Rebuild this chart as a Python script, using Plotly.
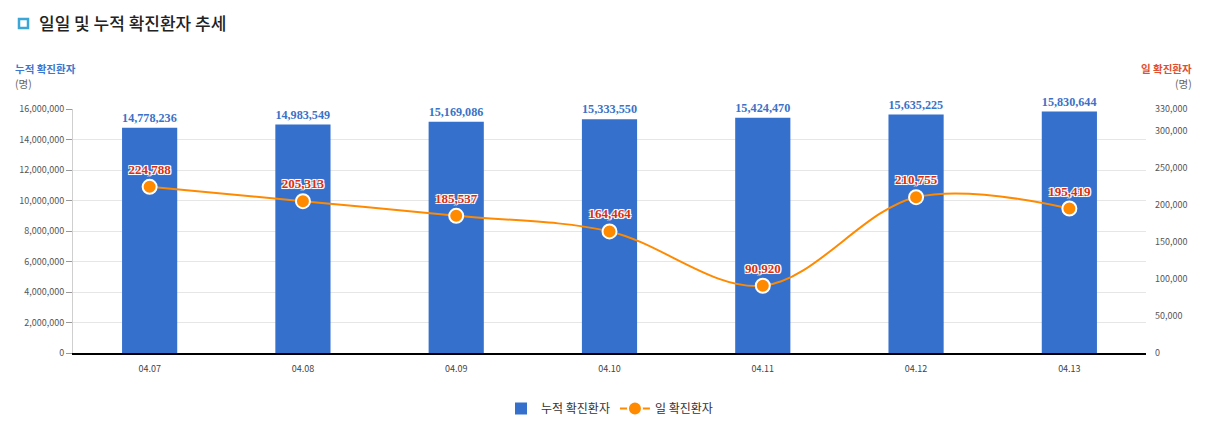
import plotly.graph_objects as go

dates = ["04.07", "04.08", "04.09", "04.10", "04.11", "04.12", "04.13"]
cumulative = [14778236, 14983549, 15169086, 15333550, 15424470, 15635225, 15830644]
daily = [224788, 205313, 185537, 164464, 90920, 210755, 195419]

left_ticks = [0, 2000000, 4000000, 6000000, 8000000, 10000000, 12000000, 14000000, 16000000]
right_ticks = [0, 50000, 100000, 150000, 200000, 250000, 300000, 330000]

title_text = "일일 및 누적 확진환자 추세"
bar_name = "누적 확진환자"
line_name = "일 확진환자"
unit = "(명)"

KR = "Noto Sans CJK KR"
SERIF = "Liberation Serif"

# page offset (body margin) compensation
OFF = 8
L, R, T, B = 73 - OFF, 1210 - 1146 + OFF, 109 - OFF, 432 - 353 + OFF
PW, PH = 1210 - L - R, 432 - T - B


def px(xp):
    return (xp - OFF - L) / PW


def py(yp):
    return 1 - (yp - OFF - T) / PH


fig = go.Figure()
fig.add_trace(go.Bar(
    x=dates, y=cumulative, name=bar_name,
    marker=dict(color="#3570cc", line=dict(width=0)),
    text=[f"{v:,}" for v in cumulative], textposition="outside",
    textfont=dict(family=SERIF, size=13, color="#3a72c8", weight="bold"),
    cliponaxis=False, yaxis="y",
))
fig.add_trace(go.Scatter(
    x=dates, y=daily, name=line_name, yaxis="y2",
    mode="lines+markers+text",
    line=dict(color="#ff8a00", width=2, shape="spline", smoothing=1.0),
    marker=dict(color="#ff8a00", size=14, line=dict(color="white", width=2)),
    text=[f"{v:,}" for v in daily], textposition="top center",
    textfont=dict(family=SERIF, size=13, color="#d8300f", weight="bold",
                  shadow="1px 1px 0 #fff, -1px -1px 0 #fff, 1px -1px 0 #fff, -1px 1px 0 #fff, 0 0 2px #fff"),
    cliponaxis=False,
))

fig.update_layout(
    width=1210, height=432,
    margin=dict(l=L, r=R, t=T, b=B),
    paper_bgcolor="white", plot_bgcolor="white",
    bargap=0.64,
    showlegend=True,
    legend=dict(orientation="h", x=0.5, xanchor="center", y=py(394), yanchor="top",
                font=dict(family=KR, size=12, color="#333"), itemwidth=30,
                traceorder="normal"),
    xaxis=dict(type="category", showgrid=False, showline=True, linecolor="#000", linewidth=1.5,
               ticks="", tickfont=dict(family=KR, size=9, color="#444"), ticklabelstandoff=6),
    yaxis=dict(range=[0, 16000000], tickvals=left_ticks,
               ticktext=[f"{v:,}" for v in left_ticks],
               showgrid=True, gridcolor="#e6e6e6", gridwidth=1,
               showline=True, linecolor="#cfcfcf", linewidth=1,
               ticks="outside", ticklen=6, tickcolor="#999",
               tickfont=dict(family=KR, size=9, color="#555"), zeroline=False),
    yaxis2=dict(range=[0, 330000], tickvals=right_ticks,
                ticktext=[f"{v:,}" for v in right_ticks],
                overlaying="y", side="right", showgrid=False, showline=False,
                ticks="", tickfont=dict(family=KR, size=9, color="#555"), zeroline=False,
                ticklabelstandoff=8),
)

# Title with square icon
fig.add_shape(type="rect", xref="paper", yref="paper",
              x0=px(19), x1=px(28), y0=py(28), y1=py(19),
              line=dict(color="#3aa6d8", width=2.5), fillcolor="white")
annotations = [
    dict(text=title_text, x=37, y=23, font=dict(family=KR, size=17, color="#222", weight=500)),
    dict(text=bar_name, x=13, y=68, font=dict(family=KR, size=10.5, color="#3a78d0", weight="bold")),
    dict(text=unit, x=13, y=83, font=dict(family=KR, size=10.5, color="#666")),
]
for a in annotations:
    fig.add_annotation(text=a["text"], xref="paper", yref="paper",
                       x=px(a["x"]), y=py(a["y"]),
                       xanchor="left", yanchor="middle", showarrow=False, font=a["font"])
for txt, yy, col, w in [(line_name, 68, "#e05030", "bold"), (unit, 83, "#666", "normal")]:
    fig.add_annotation(text=txt, xref="paper", yref="paper",
                       x=px(1194), y=py(yy),
                       xanchor="right", yanchor="middle", showarrow=False,
                       font=dict(family=KR, size=10.5, color=col, weight=w))

fig.write_html("out.html")
